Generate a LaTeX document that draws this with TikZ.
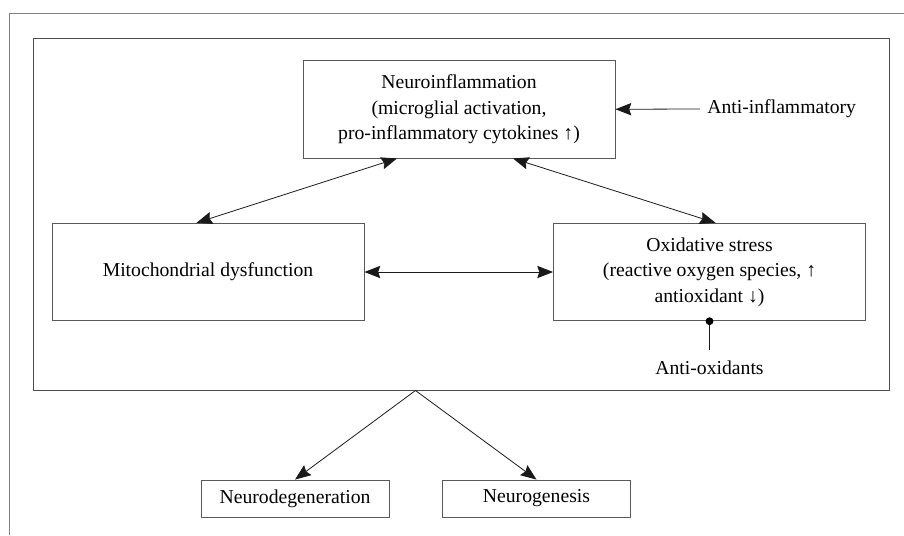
\documentclass[tikz,border=0pt]{standalone}
\usepackage{fontspec}
\setmainfont{Liberation Serif}
\usetikzlibrary{arrows.meta}

\tikzset{
  >={Stealth[length=9pt,width=7pt,inset=1.2pt]},
  box/.style={draw=black!65,line width=0.5pt,align=center,inner sep=2pt,
              font=\fontsize{11.2}{14.4}\selectfont},
  bigbox/.style={box,minimum width=6.24cm,minimum height=1.95cm},
  smallbox/.style={box,minimum width=3.76cm,minimum height=0.74cm},
  lbl/.style={font=\fontsize{11.2}{14.4}\selectfont,inner sep=0pt},
  link/.style={black!90,line width=0.45pt}
}

\begin{document}
\begin{tikzpicture}
         \useasboundingbox (0,0) rectangle (18.08,-10.7) ;
         %\draw[very thin,gray,step=0.5] (0,-10.7) grid (18.08,0) ;
         % page frame
         \draw[black!50,line width=0.5pt] (0.19,-10.7) -- (0.19,-0.26) -- (18.08,-0.26) ;
         % large frame round the three processes
         \draw[black!70,line width=0.5pt] (0.67,-0.77) rectangle (17.78,-7.81) ;
         \node[bigbox] (neuro) at (9.18,-2.185)
            {Neuroinflammation\\(microglial activation,\\pro-inflammatory cytokines ↑)} ;
         \node[bigbox] (mito) at (4.16,-5.44) {Mitochondrial dysfunction} ;
         \node[bigbox] (oxi) at (14.19,-5.44)
            {Oxidative stress\\(reactive oxygen species, ↑\\antioxidant ↓)} ;
         \node[smallbox] (degen) at (5.9,-9.97) {Neurodegeneration} ;
         \node[smallbox] (genesis) at (10.73,-9.97) {Neurogenesis} ;
         % treatments
         \node[lbl,anchor=west] (antiinf) at (14.14,-2.18) {Anti-inflammatory} ;
         \node[lbl] (antiox) at (14.19,-7.36) {Anti-oxidants} ;
         \coordinate (split) at (8.31,-7.81) ;
         % connectors
         \draw[link,<->] ([xshift=-1.24cm]neuro.south) -- ([xshift=-0.23cm]mito.north) ;
         \draw[link,<->] ([xshift=1.08cm]neuro.south) -- ([xshift=0.12cm]oxi.north) ;
         \draw[link,<->] (mito.east) -- (oxi.west) ;
         \draw[link,->] ([xshift=-0.14cm]antiinf.west) -- (neuro.east) ;
         \draw[link] (oxi.south) -- ([yshift=0.22cm]antiox.north) ;
         \draw[color=black,fill=black] (oxi.south) circle (0.07) ;
         \draw[link,->] (split) -- (degen.north) ;
         \draw[link,->] (split) -- (genesis.north) ;
      \end{tikzpicture}
\end{document}
